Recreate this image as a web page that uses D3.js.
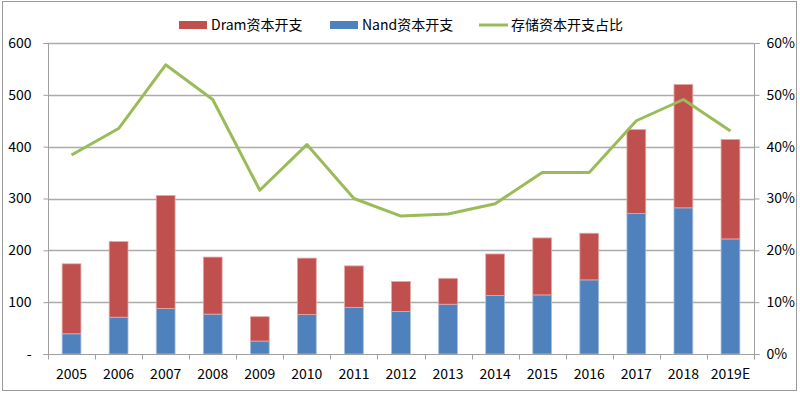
<!DOCTYPE html>
<html><head><meta charset="utf-8">
<script src="https://cdn.jsdelivr.net/npm/d3@7"></script>
<style>
body{margin:0;background:#fff;}
svg{display:block;}
</style></head>
<body>
<svg id="chart" width="800" height="395"></svg>
<script>
const years = ["2005","2006","2007","2008","2009","2010","2011","2012","2013","2014","2015","2016","2017","2018","2019E"];
const nandCapex = [39, 71, 88, 77, 25, 76, 90, 82, 96, 113, 114, 143, 271, 282, 222];
const dramCapex = [135, 146, 218, 110, 47, 109, 80, 58, 50, 80, 110, 90, 162, 238, 192];
const memoryShare = [0.384, 0.435, 0.558, 0.491, 0.316, 0.404, 0.300, 0.266, 0.270, 0.290, 0.350, 0.350, 0.450, 0.491, 0.430];
const leftTicks = [0, 100, 200, 300, 400, 500, 600];
const rightTicks = [0, 0.1, 0.2, 0.3, 0.4, 0.5, 0.6];
const legendLabels = ["Dram资本开支", "Nand资本开支", "存储资本开支占比"];

const colors = {dram:"#C0504D", nand:"#4F81BD", line:"#9BBB59", grid:"#ABABAB", axis:"#A0A0A0", text:"#000"};
const cjkFont = "'Noto Sans CJK SC',sans-serif";
const tickFont = cjkFont;

const svg = d3.select("#chart");
const m = {left:48, right:754, top:43, bottom:354};

// frame
svg.append("rect").attr("x",2.5).attr("y",1.5).attr("width",794).attr("height",389)
  .attr("fill","none").attr("stroke","#9A9A9A").attr("stroke-width",1);

const x = d3.scaleBand().domain(years).range([m.left, m.right]).paddingInner(0.6).paddingOuter(0.3);
const xb = d3.scaleBand().domain(years).range([m.left, m.right]);
const yL = d3.scaleLinear().domain([0,600]).range([m.bottom, m.top]);
const yR = d3.scaleLinear().domain([0,0.6]).range([m.bottom, m.top]);

// grid
svg.append("g").selectAll("line").data(leftTicks.slice(1)).join("line")
  .attr("x1",m.left).attr("x2",m.right)
  .attr("y1",d=>Math.round(yL(d))+0.5).attr("y2",d=>Math.round(yL(d))+0.5)
  .attr("stroke",colors.grid).attr("stroke-width",1.5);

// bars
const stackData = years.map((y,i)=>({year:y, nand:nandCapex[i], dram:dramCapex[i]}));
const series = d3.stack().keys(["nand","dram"])(stackData);
svg.append("g").selectAll("g").data(series).join("g")
  .attr("fill",d=>d.key==="nand"?colors.nand:colors.dram)
  .attr("stroke",d=>d.key==="nand"?"#A7C0E0":"#E3A9A7").attr("stroke-width",0.8)
  .selectAll("rect").data(d=>d).join("rect")
  .attr("x",d=>x(d.data.year)).attr("width",x.bandwidth())
  .attr("y",d=>yL(d[1])).attr("height",d=>yL(d[0])-yL(d[1]));

// axes
const axL = d3.axisLeft(yL).tickValues(leftTicks).tickSize(5).tickFormat(d=>d===0?"-  ":d3.format("d")(d));
const gL = svg.append("g").attr("transform",`translate(${m.left+0.5},0)`).call(axL);
gL.select(".domain").attr("stroke",colors.axis).attr("d",`M-5,${m.top+0.5}H0V${m.bottom+0.5}H-5`);
gL.selectAll(".tick line").attr("stroke",colors.axis);
gL.selectAll("text").attr("x",-17).attr("font-family",tickFont).attr("font-size",14).attr("fill",colors.text);

const axR = d3.axisRight(yR).tickValues(rightTicks).tickSize(5).tickFormat(d3.format(".0%"));
const gR = svg.append("g").attr("transform",`translate(${m.right+0.5},0)`).call(axR);
gR.select(".domain").attr("stroke",colors.axis).attr("d",`M5,${m.top+0.5}H0V${m.bottom+0.5}H5`);
gR.selectAll(".tick line").attr("stroke",colors.axis);
gR.selectAll("text").attr("x",12).attr("font-family",tickFont).attr("font-size",14).attr("fill",colors.text);

// x axis
const gX = svg.append("g").attr("transform",`translate(0,${m.bottom+0.5})`);
gX.append("line").attr("x1",m.left).attr("x2",m.right).attr("stroke",colors.axis);
gX.selectAll("line.t").data(years.concat(["end"])).join("line").attr("class","t")
  .attr("x1",(d,i)=>Math.round(m.left+i*xb.step())+0.5).attr("x2",(d,i)=>Math.round(m.left+i*xb.step())+0.5)
  .attr("y1",0).attr("y2",5).attr("stroke",colors.axis);
gX.selectAll("text").data(years).join("text")
  .attr("x",d=>xb(d)+xb.bandwidth()/2).attr("y",20).attr("dy","0.35em")
  .attr("text-anchor","middle").attr("font-family",tickFont).attr("font-size",14).attr("fill",colors.text)
  .text(d=>d);

// line
const line = d3.line().x((d,i)=>xb(years[i])+xb.bandwidth()/2).y(d=>yR(d));
svg.append("path").datum(memoryShare).attr("d",line).attr("fill","none")
  .attr("stroke",colors.line).attr("stroke-width",3).attr("stroke-linejoin","round");

// legend
const lg = svg.append("g").attr("font-family",cjkFont).attr("font-size",14);
const legX = [179, 330, 479];
lg.append("rect").attr("x",legX[0]).attr("y",21).attr("width",28).attr("height",8).attr("fill",colors.dram);
lg.append("rect").attr("x",legX[1]).attr("y",21).attr("width",28).attr("height",8).attr("fill",colors.nand);
lg.append("line").attr("x1",legX[2]).attr("x2",legX[2]+29).attr("y1",25).attr("y2",25).attr("stroke",colors.line).attr("stroke-width",3);
lg.selectAll("text").data(legendLabels).join("text")
  .attr("x",(d,i)=>legX[i]+32).attr("y",25).attr("dy","0.35em").text(d=>d).attr("fill",colors.text);
</script>
</body></html>
